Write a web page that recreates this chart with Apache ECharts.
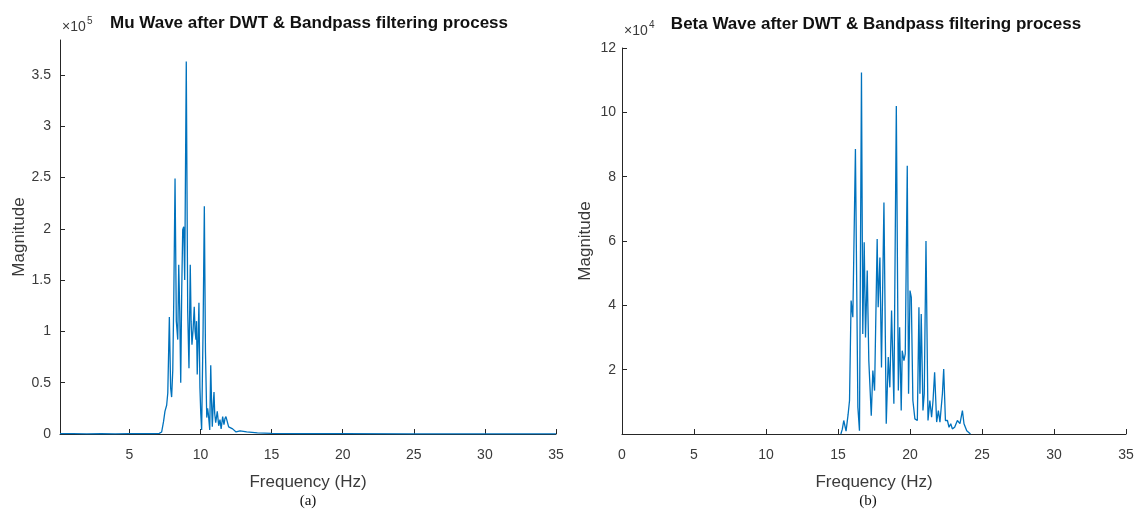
<!DOCTYPE html>
<html>
<head>
<meta charset="utf-8">
<script src="https://cdn.jsdelivr.net/npm/echarts@6/dist/echarts.min.js"></script>
<style>
  html, body { margin: 0; padding: 0; background: #ffffff; }
  #chart { width: 1139px; height: 514px; }
</style>
</head>
<body>
<div id="chart"></div>
<script>
// Mu wave spectrum (frequency in Hz, magnitude in units of 1e5)
const muFreq = [0.12, 1, 2, 3, 4, 5, 6, 6.8, 7.1, 7.27, 7.4, 7.5, 7.62, 7.7, 7.81, 7.9, 7.97, 8.05, 8.12, 8.21,
  8.3, 8.4, 8.47, 8.54, 8.61, 8.68, 8.75, 8.82, 8.89, 9.0, 9.1, 9.19, 9.28, 9.34, 9.4, 9.48, 9.56, 9.62,
  9.68, 9.72, 9.77, 9.83, 9.89, 9.96, 10.02, 10.08, 10.18, 10.27, 10.35, 10.44, 10.5, 10.55, 10.65,
  10.72, 10.78, 10.83, 10.9, 10.95, 11.0, 11.07, 11.18, 11.28, 11.37, 11.45, 11.56, 11.65, 11.72,
  11.79, 11.89, 11.98, 12.1, 12.26, 12.5, 12.78, 13.25, 14, 15, 17, 20, 25, 30, 35];
const muMag = [0.004, 0.003, 0.002, 0.003, 0.002, 0.003, 0.003, 0.004, 0.006, 0.02, 0.12, 0.22, 0.28, 0.4, 1.14, 0.45, 0.36, 0.62, 1.3, 2.49,
  1.1, 0.92, 1.65, 1.2, 0.5, 1.4, 1.99, 2.02, 1.5, 3.63, 1.2, 0.64, 1.65, 1.1, 0.87, 1.02, 1.24, 1.0,
  0.92, 1.1, 0.58, 0.9, 1.28, 0.45, 0.2, 0.04, 1.0, 2.22, 0.8, 0.16, 0.25, 0.2, 0.04,
  0.67, 0.3, 0.07, 0.3, 0.41, 0.2, 0.11, 0.22, 0.08, 0.14, 0.05, 0.17, 0.09, 0.15,
  0.17, 0.16, 0.07, 0.06, 0.05, 0.02, 0.03, 0.02, 0.01, 0.006, 0.004, 0.003, 0.002, 0.002, 0.002];

// Beta wave spectrum (frequency in Hz, magnitude in units of 1e4)
const betaFreq = [15.2, 15.3, 15.4, 15.56, 15.7, 15.8, 15.91, 16.03, 16.21, 16.38, 16.49, 16.63, 16.72, 16.82,
  16.91, 17.03, 17.14, 17.31, 17.42, 17.54, 17.72, 17.79, 17.91, 18.02, 18.19, 18.35, 18.49, 18.6,
  18.72, 18.88, 19.05, 19.19, 19.28, 19.39, 19.46, 19.58, 19.67, 19.81, 19.9, 20.0, 20.09, 20.2,
  20.34, 20.51, 20.62, 20.69, 20.78, 20.9, 20.99, 21.11, 21.25, 21.38, 21.5, 21.6, 21.71, 21.85,
  21.97, 22.08, 22.25, 22.34, 22.46, 22.6, 22.71, 22.83, 22.94, 23.1, 23.29, 23.47, 23.64, 23.75,
  23.94, 24.2];
const betaMag = [0, 0.15, 0.42, 0.09, 0.6, 1.04, 4.15, 3.63, 8.86, 0.83, 0.1, 11.24, 3.11, 5.96,
  3.0, 5.08, 2.28, 0.57, 1.97, 1.35, 6.06, 3.94, 5.49, 2.07, 7.2, 0.32, 2.39, 1.45,
  3.84, 0.94, 10.2, 1.35, 3.32, 0.73, 2.59, 2.28, 2.49, 8.34, 1.25, 4.46, 4.25, 1.04,
  0.47, 0.42, 3.94, 1.25, 3.73, 0.73, 1.25, 6.0, 0.42, 1.04, 0.52, 1.04, 1.92, 0.37,
  0.73, 0.37, 1.25, 2.02, 0.42, 0.42, 0.21, 0.32, 0.16, 0.21, 0.42, 0.32, 0.73, 0.32,
  0.1, 0];

const muTicksX = [5, 10, 15, 20, 25, 30, 35];
const muTicksY = [0, 0.5, 1, 1.5, 2, 2.5, 3, 3.5];
const betaTicksX = [0, 5, 10, 15, 20, 25, 30, 35];
const betaTicksY = [2, 4, 6, 8, 10, 12];

const FONT = '"Liberation Sans", Arial, sans-serif';
const AXIS_COLOR = '#262626';
const TEXT_COLOR = '#3a3a3a';
const LINE_COLOR = '#0072BD';

function pairs(xs, ys) {
  return xs.map((x, i) => [x, ys[i]]);
}

function xAxisOf(gridIndex, min, ticks) {
  return {
    type: 'value',
    gridIndex: gridIndex,
    min: min,
    max: 35,
    name: 'Frequency (Hz)',
    nameLocation: 'middle',
    nameGap: 40,
    nameTextStyle: { fontFamily: FONT, fontSize: 17, color: TEXT_COLOR },
    axisLine: { onZero: false, lineStyle: { color: AXIS_COLOR, width: 1 } },
    axisTick: { inside: true, length: 5, customValues: ticks, lineStyle: { color: AXIS_COLOR } },
    axisLabel: { customValues: ticks, fontFamily: FONT, fontSize: 14, color: TEXT_COLOR, margin: 14 },
    splitLine: { show: false }
  };
}

function yAxisOf(gridIndex, max, ticks, margin) {
  return {
    type: 'value',
    gridIndex: gridIndex,
    min: 0,
    max: max,
    name: 'Magnitude',
    nameLocation: 'middle',
    nameGap: 28,
    nameTextStyle: { fontFamily: FONT, fontSize: 17, color: TEXT_COLOR },
    axisLine: { show: true, onZero: false, lineStyle: { color: AXIS_COLOR, width: 1 } },
    axisTick: { show: true, inside: true, length: 5, customValues: ticks, lineStyle: { color: AXIS_COLOR } },
    axisLabel: { customValues: ticks, fontFamily: FONT, fontSize: 14, color: TEXT_COLOR, margin: margin },
    splitLine: { show: false }
  };
}

function label(x, y, text, size, opts) {
  return {
    type: 'text',
    x: x,
    y: y,
    style: Object.assign({
      text: text,
      fontFamily: FONT,
      fontSize: size,
      fill: '#111',
      textAlign: 'center',
      textVerticalAlign: 'middle'
    }, opts || {})
  };
}

const chart = echarts.init(document.getElementById('chart'), null, { renderer: 'canvas' });

chart.setOption({
  animation: false,
  backgroundColor: '#ffffff',
  grid: [
    { left: 60, top: 40, width: 496, height: 394 },
    { left: 622, top: 48, width: 504, height: 386 }
  ],
  xAxis: [xAxisOf(0, 0.12, muTicksX), xAxisOf(1, 0, betaTicksX)],
  yAxis: [yAxisOf(0, 3.84, muTicksY, 9), yAxisOf(1, 12, betaTicksY, 6)],
  series: [
    {
      type: 'line', xAxisIndex: 0, yAxisIndex: 0,
      data: pairs(muFreq, muMag),
      showSymbol: false,
      lineStyle: { color: LINE_COLOR, width: 1.3 }
    },
    {
      type: 'line', xAxisIndex: 1, yAxisIndex: 1,
      data: pairs(betaFreq, betaMag),
      showSymbol: false,
      lineStyle: { color: LINE_COLOR, width: 1.3 }
    }
  ],
  graphic: [
    label(309, 23, 'Mu Wave after DWT & Bandpass filtering process', 17, { fontWeight: 'bold' }),
    label(876, 24, 'Beta Wave after DWT & Bandpass filtering process', 17, { fontWeight: 'bold' }),
    label(62, 27, '×10', 14, { textAlign: 'left', fill: TEXT_COLOR }),
    label(87, 21, '5', 10, { textAlign: 'left', fill: TEXT_COLOR }),
    label(624, 31, '×10', 14, { textAlign: 'left', fill: TEXT_COLOR }),
    label(649, 25, '4', 10, { textAlign: 'left', fill: TEXT_COLOR }),
    label(308, 501, '(a)', 15, { fontFamily: '"Liberation Serif", "Times New Roman", serif' }),
    label(868, 501, '(b)', 15, { fontFamily: '"Liberation Serif", "Times New Roman", serif' })
  ]
});
</script>
</body>
</html>
